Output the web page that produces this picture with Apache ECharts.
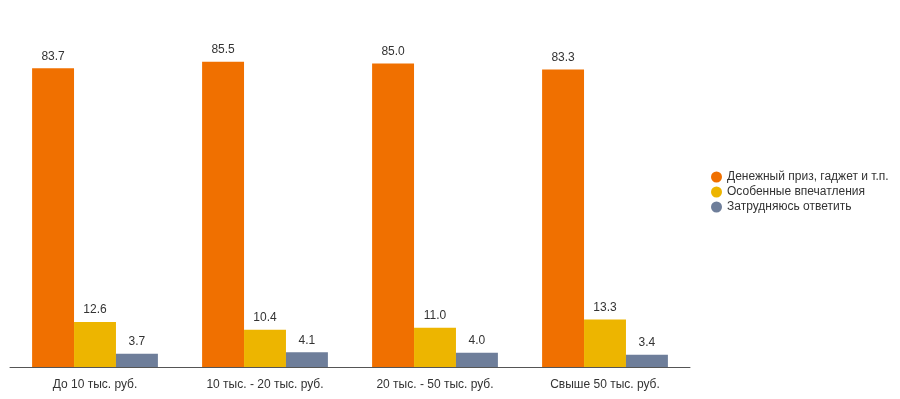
<!DOCTYPE html>
<html>
<head>
<meta charset="utf-8">
<script src="https://cdn.jsdelivr.net/npm/echarts@6/dist/echarts.min.js"></script>
<style>
  html, body { margin: 0; padding: 0; background: #fff; }
  #chart { width: 900px; height: 399px; }
</style>
</head>
<body>
<div id="chart"></div>
<script>
const categories = ["До 10 тыс. руб.", "10 тыс. - 20 тыс. руб.", "20 тыс. - 50 тыс. руб.", "Свыше 50 тыс. руб."];
const seriesNames = ["Денежный приз, гаджет и т.п.", "Особенные впечатления", "Затрудняюсь ответить"];
const moneyPrize = [83.7, 85.5, 85.0, 83.3];
const experiences = [12.6, 10.4, 11.0, 13.3];
const hardToSay = [3.7, 4.1, 4.0, 3.4];
const colors = ["#f07000", "#edb500", "#6e7e9a"];

const chart = echarts.init(document.getElementById("chart"));
const makeSeries = (name, data, color) => ({
  name: name,
  type: "bar",
  data: data,
  barGap: "0%",
  barCategoryGap: "26%",
  itemStyle: { color: color },
  label: {
    show: true,
    position: "top",
    distance: 6,
    color: "#333",
    fontSize: 12,
    formatter: (p) => p.value.toFixed(1),
  },
});

chart.setOption({
  animation: false,
  textStyle: { fontFamily: "Liberation Sans, Arial, sans-serif" },
  legend: {
    orient: "vertical",
    left: 706,
    top: 166,
    icon: "circle",
    itemWidth: 11,
    itemHeight: 11,
    itemGap: 3,
    textStyle: { color: "#333", fontSize: 12 },
  },
  grid: { left: 10, right: 210, top: 10, bottom: 32 },
  xAxis: {
    type: "category",
    data: categories,
    axisLine: { lineStyle: { color: "#555" } },
    axisTick: { show: false },
    axisLabel: { color: "#333", fontSize: 12, margin: 12 },
  },
  yAxis: {
    type: "value",
    min: 0,
    max: 100,
    show: false,
  },
  series: [
    makeSeries(seriesNames[0], moneyPrize, colors[0]),
    makeSeries(seriesNames[1], experiences, colors[1]),
    makeSeries(seriesNames[2], hardToSay, colors[2]),
  ],
});
</script>
</body>
</html>
